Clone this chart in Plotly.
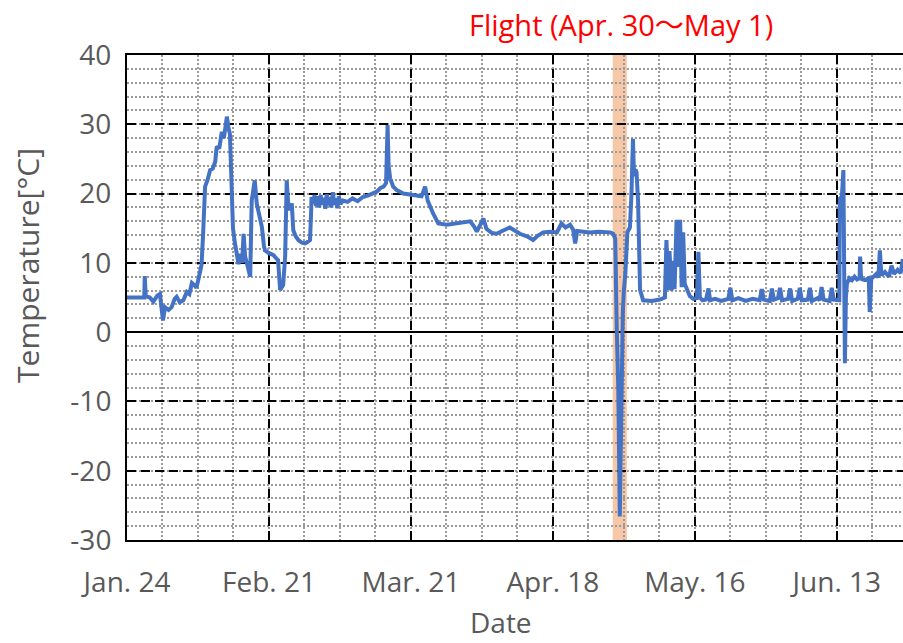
import datetime as dt
import pandas as pd
import plotly.graph_objects as go

# ---- data (day offset from Jan. 24, temperature in °C) ----
start_date = "2021-01-24"

days_a = [0, 3.4, 3.5, 3.7, 4.5, 5.2, 6.0, 6.5, 6.8, 7.1, 7.5, 8.2, 8.8, 9.4, 9.8, 10.4, 11.1,
          11.8, 12.3, 12.8, 13.3, 13.7, 14.2, 14.7, 15.0, 15.2, 15.4, 15.9, 16.4, 16.9, 17.4,
          17.7, 18.2, 18.7, 19.1, 19.4, 19.7, 20.0, 20.3, 20.6, 20.9, 21.3, 21.7, 22.0, 22.4,
          22.7, 23.0, 23.3, 23.8, 24.3, 24.6, 25.2, 25.6, 25.9, 26.3, 26.6, 27.0, 27.2, 28.0,
          28.9, 29.5, 29.8, 30.2, 30.8, 31.2, 31.5, 31.8, 32.1, 32.5, 32.8, 33.3, 33.8, 34.5,
          35.1, 35.6, 36.1, 36.3, 36.4, 36.7, 37.0]
temp_a = [5, 5, 8.1, 5.2, 5.0, 4.4, 5.3, 5.5, 3.5, 1.7, 3.6, 3.2, 3.6, 4.8, 5.1, 4.3, 4.6,
          5.8, 5.5, 7.1, 6.8, 6.4, 8.0, 9.7, 14, 19, 21, 22, 23.4, 23.6, 24.6,
          26.8, 26.5, 28.9, 28.0, 29.5, 31.1, 29.6, 28.6, 21.9, 15, 12.8, 11.2, 9.8, 11.3,
          10.0, 14.2, 10.9, 9.5, 8.0, 19, 21.9, 18.5, 17.6, 16.5, 15.2, 12.5, 11.8, 11.4,
          11.1, 10.6, 10.4, 6.1, 6.8, 11, 21.9, 18.5, 17.6, 18.6, 14.7, 13.8, 13.3, 12.9,
          12.8, 13.0, 13.3, 17, 19.5, 18.6, 19.8]

days_b = [37.3, 37.6, 37.9, 38.2, 38.5, 38.8, 39.1, 39.4, 39.7, 40.0, 40.3, 40.6, 40.9, 41.2,
          41.5, 41.8, 42.1, 42.6, 43.5, 44.5, 45.5, 46.5, 47.5, 48.5, 49.3, 50.0, 50.6, 51.1,
          51.4, 51.6, 51.9, 52.5, 53.2, 54.5, 55.8, 57.0, 58.1, 58.8, 59.3, 60.4, 61.4, 63.1,
          65.7, 67.7, 68.5, 69.0, 70.3, 70.9, 72.0, 72.9, 74.0, 75.5, 77.5, 79.0, 80.1, 81.0,
          82.1, 83.5, 84.8, 85.7, 86.5, 87.4, 88.0, 88.4, 88.8, 90.0, 91.3, 93.0, 95.3, 95.9]
temp_b = [18.2, 19.6, 18.0, 19.8, 18.4, 19.4, 17.8, 19.9, 18.3, 19.5, 18.0, 20.2, 18.4, 19.3,
          17.9, 19.6, 18.5, 19.0, 18.8, 19.3, 18.9, 19.5, 19.7, 20.1, 20.3, 20.8, 21.0, 21.5,
          29.9, 24.0, 22.2, 21.0, 20.5, 20.0, 19.9, 19.7, 19.6, 21.0, 19.0, 17.1, 15.7, 15.5,
          15.7, 16.0, 15.2, 14.5, 16.4, 14.9, 14.3, 14.2, 14.6, 15.1, 14.2, 13.8, 13.3, 13.9,
          14.4, 14.5, 14.4, 15.7, 15.1, 15.5, 14.8, 12.8, 14.6, 14.5, 14.4, 14.5, 14.4, 14.2]

days_c = [96.3, 96.6, 96.9, 97.2, 97.4, 97.6, 97.8, 98.0, 98.3, 98.7, 99.2, 99.5, 99.8, 100.0,
          100.3, 100.5, 100.8, 101.2, 101.8, 103.5, 105.1, 106.1, 106.4, 106.7, 107.0, 107.4,
          107.7, 108.0, 108.4, 108.7, 109.1, 109.4, 109.7, 110.0, 110.4, 111.0, 111.7, 112.4,
          112.7, 113.0, 113.5]
temp_c = [13.5, 0.5, -8, -26.6, -12, 0, 3, 6, 8.5, 14.4, 15.1, 20, 27.9, 22.5,
          23.5, 23.1, 19, 6.1, 4.6, 4.5, 4.7, 5.0, 13.3, 6.1, 11.7, 6.0,
          10.3, 6.2, 16.2, 9.4, 16.2, 6.5, 14.4, 7.0, 6.1, 5.2, 4.8, 4.9,
          11.6, 5.0, 4.6]

days_d = [114.2, 114.7, 115.0, 116.0, 117.2, 118.6, 119.0, 119.4, 120.6, 122.0, 123.4, 124.8,
          125.2, 125.6, 126.8, 127.2, 127.6, 128.4, 128.8, 129.2, 130.4, 130.8, 131.2, 132.3,
          132.7, 133.1, 134.3, 134.7, 135.1, 136.2, 136.6, 137.0, 137.4, 138.6, 139.0, 139.4,
          140.2]
temp_d = [4.7, 6.3, 4.6, 4.8, 4.5, 4.8, 6.4, 4.6, 4.9, 4.5, 4.8, 4.6,
          6.2, 4.7, 4.5, 6.3, 4.7, 4.9, 6.4, 4.6, 4.8, 6.3, 4.5, 4.8,
          6.4, 4.6, 4.7, 6.4, 4.5, 4.9, 4.6, 6.5, 4.7, 4.5, 6.4, 4.7,
          4.6]

days_e = [140.5, 140.6, 141.0, 141.3, 141.5, 141.6, 141.8, 142.0, 142.5, 143.0, 143.5, 144.0,
          144.5, 144.6, 144.8, 145.5, 146.3, 146.5, 146.8, 147.3, 147.8, 148.2, 148.5, 148.8,
          149.5, 150.3, 150.8, 151.3, 152.0, 152.6, 153.0, 153.5, 154.0, 154.3]
temp_e = [4.6, 19.3, 19.5, 23.4, 10, -4.5, 5, 7.0, 7.8, 7.5, 8.0, 7.6,
          7.8, 10.9, 7.7, 7.5, 7.8, 2.9, 7.7, 8.0, 8.4, 7.9, 11.8, 8.2,
          8.7, 8.0, 9.6, 8.4, 9.0, 8.5, 10.5, 8.8, 13.3, 8.0]

tick_days = [0, 28, 56, 84, 112, 140]
tick_labels = ["Jan. 24", "Feb. 21", "Mar. 21", "Apr. 18", "May. 16", "Jun. 13"]
y_tickvals = [-30, -20, -10, 0, 10, 20, 30, 40]
y_ticklabels = ["-30", "-20", "-10", "0", "10", "20", "30", "40"]
flight_start_day, flight_end_day = 95.8, 98.6
x_end_day = 153.06

# ---- build ----
t0 = pd.Timestamp(start_date)
all_days = days_a + days_b + days_c + days_d + days_e
all_temp = temp_a + temp_b + temp_c + temp_d + temp_e
x_dates = [t0 + pd.Timedelta(days=d) for d in all_days]
tickvals = [t0 + pd.Timedelta(days=d) for d in tick_days]

FONT = "Open Sans, Noto Sans CJK JP, sans-serif"
GRAY = "#595959"
FS = 28

fig = go.Figure()
fig.add_trace(go.Scatter(x=x_dates, y=all_temp, mode="lines",
                         line=dict(color="#4472C4", width=4), showlegend=False))

fig.add_shape(type="rect", xref="x", yref="paper",
              x0=t0 + pd.Timedelta(days=flight_start_day),
              x1=t0 + pd.Timedelta(days=flight_end_day),
              y0=0, y1=1, fillcolor="#F4B183", opacity=0.7, line_width=0, layer="below")

fig.update_xaxes(
    type="date", automargin=False,
    range=[t0, t0 + pd.Timedelta(days=x_end_day)],
    tickmode="array", tickvals=tickvals, ticktext=tick_labels,
    tickfont=dict(family=FONT, size=FS, color=GRAY),
    ticks="", ticklabelstandoff=16,
    showgrid=True, gridcolor="black", gridwidth=2, griddash="9px,5px",
    minor=dict(tick0=t0, dtick=7 * 86400000, showgrid=True, gridcolor="#9a9a9a",
               gridwidth=2, griddash="2px,2px"),
    showline=True, linecolor="black", linewidth=2, mirror=True,
    zeroline=False,
)
fig.update_yaxes(
    automargin=False,
    range=[-30, 40], tickmode="array", tickvals=y_tickvals, ticktext=y_ticklabels,
    tickfont=dict(family=FONT, size=FS, color=GRAY),
    ticks="", ticklabelstandoff=8,
    showgrid=True, gridcolor="black", gridwidth=2, griddash="9px,5px",
    minor=dict(tickmode="linear", tick0=0, dtick=2, showgrid=True, gridcolor="#9a9a9a",
               gridwidth=2, griddash="2px,2px"),
    showline=True, linecolor="black", linewidth=2,
    zeroline=True, zerolinecolor="black", zerolinewidth=2,
)

fig.add_annotation(text="Temperature[°C]", xref="paper", yref="paper",
                   x=-0.129, y=0.567, xanchor="center", yanchor="middle", textangle=-90,
                   showarrow=False, font=dict(family=FONT, size=30, color=GRAY))
fig.add_annotation(text="Date", x=0.482, y=-0.17, xref="paper", yref="paper",
                   xanchor="center", yanchor="middle", showarrow=False,
                   font=dict(family=FONT, size=FS, color=GRAY))
fig.add_annotation(text="Flight (Apr. 30～May 1)", x=0.637, y=1.062, xref="paper", yref="paper",
                   xanchor="center", yanchor="middle", showarrow=False,
                   font=dict(family=FONT, size=29, color="#FF0000"))

fig.update_layout(
    width=903, height=643,
    margin=dict(l=127, r=0, t=55, b=103),
    paper_bgcolor="white", plot_bgcolor="white",
    showlegend=False,
)

fig.write_html("out.html", config={"displayModeBar": False},
               post_script="document.body.style.margin='0';document.body.style.overflow='hidden';")
